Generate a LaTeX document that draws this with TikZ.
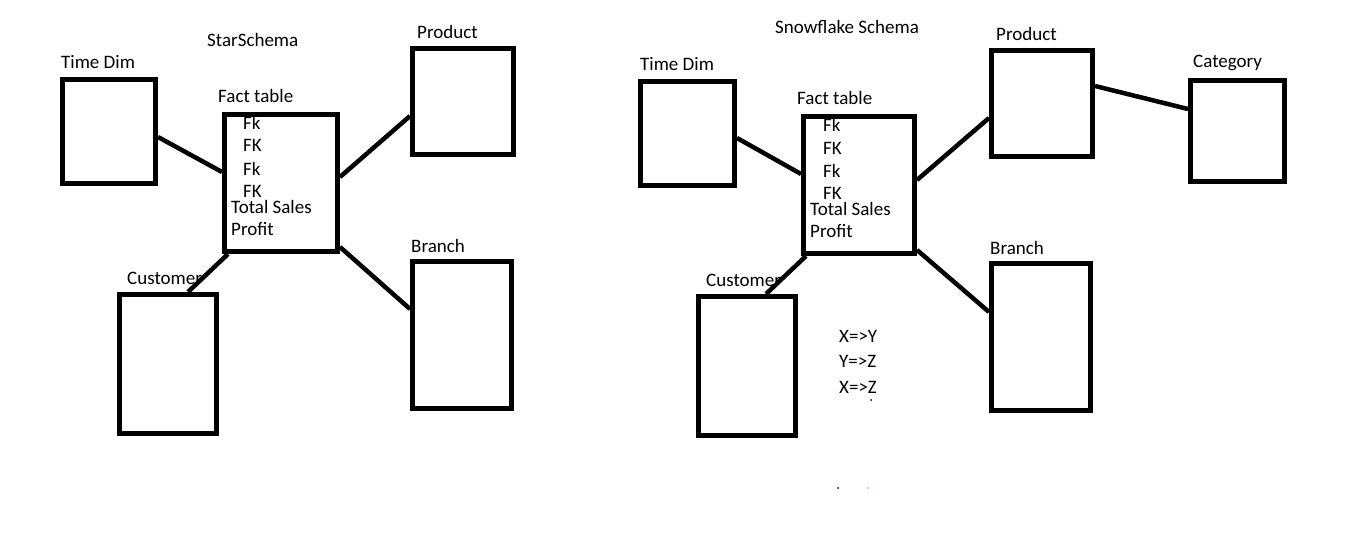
\documentclass[tikz,border=0pt]{standalone}
\usepackage{fontspec}
\setmainfont{Carlito}
\begin{document}
\begin{tikzpicture}[x=1pt,y=-1pt,
  tbl/.style={draw, line width=5pt, inner sep=0pt},
  conn/.style={line width=4.5pt},
  lbl/.style={anchor=base west, inner sep=0pt, font=\fontsize{19}{22}\selectfont},
  dotmark/.style={circle, fill=#1, inner sep=0pt, minimum size=2pt}]
\useasboundingbox[fill=white] (0,0) rectangle (1360,545);

% ---------------- Star schema ----------------
\node[lbl] (t1) at (207,47) {StarSchema};
\node[tbl, minimum width=93, minimum height=104] (td1) at (109,131.5) {};
\node[tbl, minimum width=113, minimum height=137] (ft1) at (281,183) {};
\node[tbl, minimum width=101, minimum height=106] (pr1) at (463,101.5) {};
\node[tbl, minimum width=99, minimum height=147] (br1) at (462,335) {};
\node[tbl, minimum width=97, minimum height=139] (cu1) at (168,364) {};

\node[lbl] (ltd1) at (61,69) {Time Dim};
\node[lbl] (lft1) at (218,103) {Fact table};
\node[lbl] (lpr1) at (417,39) {Product};
\node[lbl] (lbr1) at (411,253) {Branch};
\node[lbl] (lcu1) at (127,285) {Customer};

\node[lbl] (f1a) at (243,130) {Fk};
\node[lbl] (f1b) at (243,152) {FK};
\node[lbl] (f1c) at (243,176) {Fk};
\node[lbl] (f1d) at (243,198) {FK};
\node[lbl] (f1e) at (231,214) {Total Sales};
\node[lbl] (f1f) at (231,236) {Profit};

\draw[conn] (td1.east |- 0,137) -- (ft1.west |- 0,172);
\draw[conn] (ft1.east |- 0,177) -- (pr1.west |- 0,116);
\draw[conn] (ft1.east |- 0,247) -- (br1.west |- 0,309);
\draw[conn] (228,0 |- ft1.south) -- (188,0 |- cu1.north);

% ---------------- Snowflake schema ----------------
\node[lbl] (t2) at (775,34) {Snowflake Schema};
\node[tbl, minimum width=94, minimum height=104] (td2) at (687.5,133.5) {};
\node[tbl, minimum width=111, minimum height=137] (ft2) at (859,185) {};
\node[tbl, minimum width=101, minimum height=106] (pr2) at (1042,103.5) {};
\node[tbl, minimum width=94, minimum height=101] (ca2) at (1237.5,131) {};
\node[tbl, minimum width=99, minimum height=147] (br2) at (1041,337) {};
\node[tbl, minimum width=97, minimum height=139] (cu2) at (747,366) {};

\node[lbl] (ltd2) at (640,71) {Time Dim};
\node[lbl] (lft2) at (797,105) {Fact table};
\node[lbl] (lpr2) at (996,41) {Product};
\node[lbl] (lca2) at (1193,68) {Category};
\node[lbl] (lbr2) at (990,255) {Branch};
\node[lbl] (lcu2) at (706,287) {Customer};

\node[lbl] (f2a) at (823,132) {Fk};
\node[lbl] (f2b) at (823,155) {FK};
\node[lbl] (f2c) at (823,178) {Fk};
\node[lbl] (f2d) at (823,200) {FK};
\node[lbl] (f2e) at (810,216) {Total Sales};
\node[lbl] (f2f) at (810,238) {Profit};

\node[lbl] (r1) at (839,342) {X=>Y};
\node[lbl] (r2) at (839,367) {Y=>Z};
\node[lbl] (r3) at (839,393) {X=>Z};

\node[dotmark=black] (d1) at (871,400) {};
\node[dotmark=black] (d2) at (838,488) {};
\node[dotmark=cyan!60] (d3) at (868,488) {};

\draw[conn] (td2.east |- 0,138) -- (ft2.west |- 0,174);
\draw[conn] (ft2.east |- 0,180) -- (pr2.west |- 0,118);
\draw[conn] (pr2.east |- 0,86) -- (ca2.west |- 0,109);
\draw[conn] (ft2.east |- 0,250) -- (br2.west |- 0,312);
\draw[conn] (806,0 |- ft2.south) -- (766,0 |- cu2.north);
\end{tikzpicture}
\end{document}
